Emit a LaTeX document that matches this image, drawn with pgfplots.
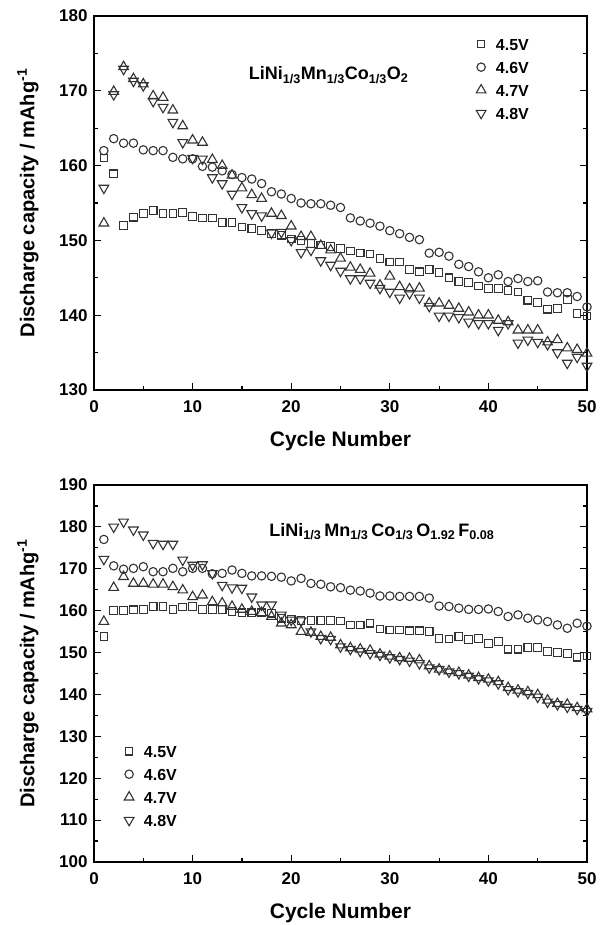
\documentclass[border=0pt]{standalone}
\usepackage{fontspec}
\setmainfont{Liberation Sans}
\usepackage{pgfplots}
\pgfplotsset{compat=1.18}
\definecolor{mk}{HTML}{333333}

\pgfplotstableread{
c v45 v46 v47 v48
1 161.0 162.0 152.3 157.0
2 158.9 163.6 169.9 169.5
3 152.0 163.0 173.2 172.9
4 153.1 163.0 171.6 171.3
5 153.6 162.1 170.9 170.7
6 154.0 162.0 169.3 168.6
7 153.6 162.0 169.1 167.8
8 153.6 161.1 167.4 165.8
9 153.7 160.9 165.3 163.1
10 153.2 160.9 163.4 161.0
11 153.0 159.9 163.1 160.9
12 153.0 159.8 160.8 158.4
13 152.4 159.3 160.0 157.6
14 152.4 158.8 158.7 156.2
15 151.8 158.4 157.0 154.4
16 151.6 158.2 156.1 153.6
17 151.3 157.6 155.6 153.3
18 150.9 156.5 153.6 151.0
19 150.7 156.2 153.3 151.1
20 150.2 155.6 151.9 150.0
21 150.0 155.0 150.5 148.4
22 149.6 154.9 150.5 148.7
23 149.4 154.9 149.3 147.3
24 149.2 154.7 148.7 146.7
25 148.9 154.4 147.6 145.9
26 148.6 153.0 146.4 144.9
27 148.3 152.6 146.1 144.9
28 148.2 152.3 145.6 144.3
29 147.6 151.9 144.0 143.6
30 147.1 151.3 145.2 143.1
31 147.1 150.9 143.8 142.3
32 146.1 150.4 143.5 142.9
33 145.8 150.1 143.6 142.3
34 146.1 148.3 141.6 141.2
35 145.7 148.4 141.6 139.9
36 145.0 147.9 141.3 139.9
37 144.5 146.8 140.9 139.7
38 144.4 146.5 140.4 139.1
39 143.9 145.8 140.0 138.9
40 143.6 145.0 140.0 138.9
41 143.6 145.4 139.3 138.0
42 143.3 144.5 139.1 138.9
43 143.1 144.9 138.0 136.3
44 142.0 144.5 138.0 136.7
45 141.7 144.6 138.0 136.4
46 140.8 143.1 136.4 136.1
47 140.9 143.0 136.7 135.0
48 142.1 143.0 135.6 133.6
49 140.2 142.5 135.4 134.4
50 139.9 141.1 134.9 133.2
}\toptable

\pgfplotstableread{
c v45 v46 v47 v48
1 153.8 177.0 157.4 172.3
2 160.0 170.7 165.5 180.0
3 160.0 169.9 168.1 181.2
4 160.2 170.1 166.5 179.3
5 160.3 170.5 166.5 178.1
6 161.0 169.3 166.3 176.1
7 161.0 169.3 166.3 175.9
8 160.3 170.1 165.7 175.9
9 160.9 169.3 164.9 172.1
10 161.0 170.1 163.3 170.9
11 160.3 170.1 163.7 171.0
12 160.3 168.8 162.1 168.9
13 160.3 168.9 161.8 166.1
14 159.8 169.7 161.0 165.5
15 159.5 168.9 160.3 165.4
16 159.5 168.3 159.8 163.3
17 159.5 168.3 159.5 161.4
18 159.4 168.2 158.6 161.4
19 158.2 168.0 157.0 159.0
20 158.0 167.1 156.6 157.8
21 157.7 167.7 155.0 157.6
22 157.7 166.5 154.8 155.0
23 157.7 166.3 153.8 153.4
24 157.7 165.7 153.6 153.2
25 157.5 165.5 151.8 151.4
26 156.6 164.9 151.1 150.8
27 156.6 164.7 150.8 150.3
28 157.0 164.2 150.5 149.8
29 155.6 163.5 149.6 149.4
30 155.4 163.5 149.1 148.8
31 155.4 163.4 148.7 148.4
32 155.2 163.4 148.6 148.0
33 155.2 163.4 148.2 147.4
34 155.0 163.0 146.8 146.4
35 153.4 161.1 146.0 146.0
36 153.2 161.0 145.6 145.4
37 153.8 160.6 145.2 145.0
38 153.1 160.3 144.6 144.4
39 153.4 160.3 144.0 143.8
40 152.2 160.4 143.6 143.3
41 152.6 159.8 143.0 142.6
42 150.8 158.6 141.6 141.2
43 150.8 159.0 141.0 140.7
44 151.2 158.2 140.6 140.3
45 151.2 157.8 139.9 139.4
46 150.2 157.4 138.6 138.2
47 150.0 156.6 137.8 137.6
48 149.8 155.8 137.6 137.0
49 148.9 157.0 136.8 136.5
50 149.2 156.3 136.5 136.0
}\bottable

\pgfplotsset{
  myax/.style={
    scale only axis, width=493pt,
    xmin=0, xmax=50, xtick={0,10,...,50}, minor xtick={5,15,...,45},
    xtick pos=bottom, ytick pos=both,
    tick align=inside, major tick length=7pt, minor tick length=4pt,
    axis line style={line width=1.6pt},
    every tick/.style={line width=1.2pt, black},
    tick label style={font=\fontsize{17}{17}\selectfont\bfseries},
    yticklabel style={xshift=-3pt},
    xticklabel style={yshift=-7pt},
    /pgf/number format/assume math mode=true,
    xlabel={Cycle Number},
    ylabel={Discharge capacity / mAhg\textsuperscript{-1}},
    every axis x label/.style={at={(axis description cs:0.5,0)}, yshift=-51pt, anchor=center, font=\fontsize{21}{21}\selectfont\bfseries},
    every axis y label/.style={at={(axis description cs:-0.134,0.5)}, rotate=90, anchor=center, font=\fontsize{20}{20}\selectfont\bfseries},
    legend cell align=left,
    legend image code/.code={\draw[mark repeat=2,mark phase=2,##1] plot coordinates {(0pt,0pt) (6pt,0pt) (12pt,0pt)};},
    legend style={draw=none, fill=none, inner sep=0pt, row sep=9pt,
      font=\fontsize{16}{16}\selectfont\bfseries,
      nodes={inner sep=1pt, text height=12pt, text depth=0pt},
      /tikz/every odd column/.append style={column sep=9pt}},
  },
  s45/.style={only marks, color=mk, mark=square, mark size=3.8pt, mark options={draw=mk, fill=none, line width=1.1pt}},
  s46/.style={only marks, color=mk, mark=o, mark size=4.2pt, mark options={draw=mk, fill=none, line width=1.1pt}},
  s47/.style={only marks, color=mk, mark=triangle, mark size=5.6pt, mark options={draw=mk, fill=none, line width=1.1pt}},
  s48/.style={only marks, color=mk, mark=triangle, mark size=5.6pt, mark options={draw=mk, fill=none, line width=1.1pt, rotate=180}},
}

\begin{document}
\begin{tikzpicture}[x=1pt,y=1pt]
\useasboundingbox (0,0) rectangle (605,925);

\begin{axis}[myax, at={(94pt,535pt)}, anchor=south west, height=374pt,
  ymin=130, ymax=180, ytick={130,140,...,180}, minor ytick={135,145,...,175},
  legend style={at={(axis description cs:0.775,0.944)}, anchor=north west}]
\addplot[s45] table[x=c,y=v45] {\toptable};
\addlegendentry{4.5V}
\addplot[s46] table[x=c,y=v46] {\toptable};
\addlegendentry{4.6V}
\addplot[s47] table[x=c,y=v47] {\toptable};
\addlegendentry{4.7V}
\addplot[s48] table[x=c,y=v48] {\toptable};
\addlegendentry{4.8V}
\node[font=\fontsize{18}{18}\selectfont\bfseries, anchor=center] at (axis cs:23.8,172.1)
  {LiNi\textsubscript{1/3}Mn\textsubscript{1/3}Co\textsubscript{1/3}O\textsubscript{2}};
\end{axis}

\begin{axis}[myax, at={(94pt,63pt)}, anchor=south west, height=377pt,
  ymin=100, ymax=190, ytick={100,110,...,190}, minor ytick={105,115,...,185},
  legend style={at={(axis description cs:0.061,0.313)}, anchor=north west}]
\addplot[s45] table[x=c,y=v45] {\bottable};
\addlegendentry{4.5V}
\addplot[s46] table[x=c,y=v46] {\bottable};
\addlegendentry{4.6V}
\addplot[s47] table[x=c,y=v47] {\bottable};
\addlegendentry{4.7V}
\addplot[s48] table[x=c,y=v48] {\bottable};
\addlegendentry{4.8V}
\node[font=\fontsize{18}{18}\selectfont\bfseries, anchor=center] at (axis cs:29.2,178.8)
  {LiNi\textsubscript{1/3}\,Mn\textsubscript{1/3}\,Co\textsubscript{1/3}\,O\textsubscript{1.92}\,F\textsubscript{0.08}};
\end{axis}
\end{tikzpicture}
\end{document}
